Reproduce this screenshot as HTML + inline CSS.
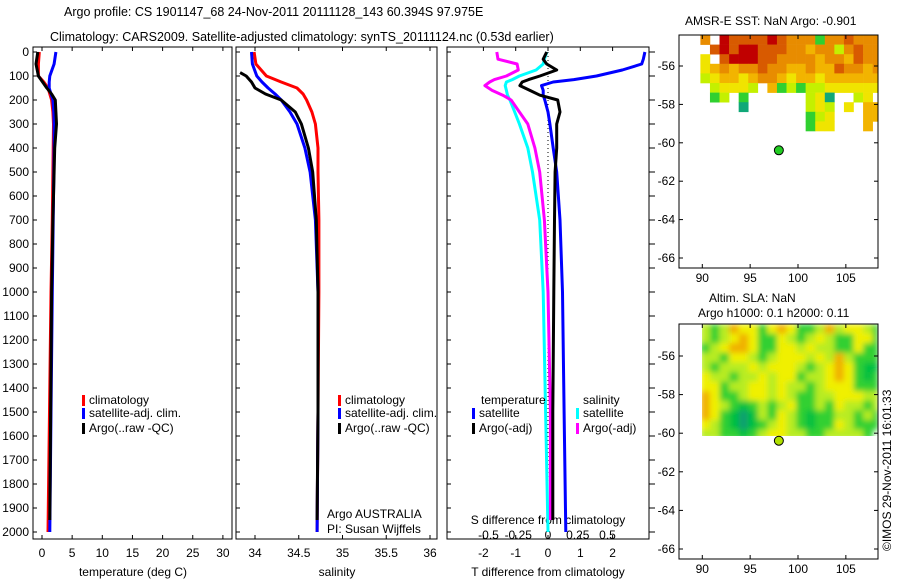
<!DOCTYPE html>
<html><head><meta charset="utf-8"><style>
body{margin:0;background:#fff;}
svg{display:block;font-family:"Liberation Sans",sans-serif;font-size:12px;}
</style></head><body>
<svg id="c" width="900" height="580" viewBox="0 0 900 580">
<defs>
<filter id="blur" x="0" y="0" width="1" height="1"><feGaussianBlur stdDeviation="3"/></filter>
<clipPath id="slaclip"><rect x="702" y="324" width="176" height="112"/></clipPath>
</defs>
<text x="64" y="16" style="font-size:12.5px">Argo profile: CS 1901147_68 24-Nov-2011 20111128_143 60.394S 97.975E</text>
<text x="50" y="41" style="font-size:12.5px">Climatology: CARS2009. Satellite-adjusted climatology: synTS_20111124.nc (0.53d earlier)</text>
<text x="685" y="25">AMSR-E SST: NaN Argo: -0.901</text>
<text x="709" y="302">Altim. SLA: NaN</text>
<text x="698" y="317">Argo h1000: 0.1 h2000: 0.11</text>
<text transform="translate(891,551) rotate(-90)">©IMOS 29-Nov-2011 16:01:33</text>
<g id="g"></g>
</svg>
<script>
const depths=[0,50,100,125,150,175,200,250,300,400,500,700,1000,1500,2000];
const tempClim=[-0.45,-0.6,-0.6,0.3,1.0,1.3,1.6,1.8,1.9,1.85,1.8,1.7,1.5,1.25,1.0];
const tempSat=[2.3,2.0,1.3,1.2,1.2,1.5,1.8,1.95,2.0,2.0,1.95,1.85,1.7,1.5,1.3];
const tempArgo=[-0.7,-1.0,-0.6,0.1,0.8,1.6,2.2,2.3,2.4,2.1,2.0,1.8,1.6,1.3,1.1];
const salClim=[33.99,34.01,34.13,34.3,34.48,34.55,34.59,34.65,34.69,34.72,34.72,34.73,34.73,34.72,34.71];
const salSat=[33.96,33.97,34.02,34.08,34.15,34.23,34.30,34.40,34.48,34.57,34.63,34.69,34.72,34.72,34.71];
const argoDepths=[86,100,125,150,175,200,250,300,400,500,700,1000,1500,1950];
const salArgo=[33.83,33.9,33.96,34.0,34.12,34.30,34.46,34.53,34.61,34.66,34.70,34.72,34.72,34.71];
const tdDepths=[0,30,50,75,100,115,125,140,160,180,200,250,300,400,500,700,1000,1500,2000];
const tdSat=[3.0,2.95,2.9,2.3,1.5,0.8,0.16,-0.2,-0.15,-0.15,-0.1,0.0,0.06,0.16,0.27,0.37,0.45,0.5,0.55];
const tdArgo=[-0.04,-0.15,-0.04,0.27,-0.25,-0.6,-0.8,-0.87,-0.56,-0.25,0.3,0.37,0.27,0.27,0.22,0.2,0.18,0.15,0.15];
const sdSat=[-0.01,-0.03,-0.04,-0.1,-0.24,-0.3,-0.35,-0.36,-0.35,-0.34,-0.32,-0.28,-0.24,-0.17,-0.13,-0.07,-0.04,-0.02,0.0];
const sdArgo=[-0.43,-0.42,-0.26,-0.25,-0.35,-0.45,-0.49,-0.53,-0.47,-0.38,-0.31,-0.24,-0.17,-0.11,-0.07,-0.03,0.0,0.02,0.02];
const depthTicks=[0,100,200,300,400,500,600,700,800,900,1000,1100,1200,1300,1400,1500,1600,1700,1800,1900,2000];
const tempTicks=[0,5,10,15,20,25,30];
const salTicks=[34,34.5,35,35.5,36];
const tdTicks=[-2,-1,0,1,2];
const sdTicks=[-0.5,-0.25,0,0.25,0.5];
const lonTicks=[90,95,100,105];
const latTicks=[-56,-58,-60,-62,-64,-66];
const argoLon=98.0, argoLat=-60.39;
const sstGrid=[
"o.RrrrrRrooogooroooo",
".rRrRRrrrooOoolorooo",
"y.rRRRrrooooOooOrooo",
"yOoOoorooOOoOOrooOo",
"lyOOyOooOyOOyOOOOOO",
".lyyyl.OglgllyyyyyY",
".gl.g......lyt..ly",
"....t......lyl.y.OO",
"...........gly...OO",
"...........gyy...O."];
const slaGrid=[
"lgloyygyoyggloly ylg".replace(/ /g,''),
"lglyoyggylglylggyyg",
"glyooyggyylyllggyg g".replace(/ /g,''),
"llgyylglyyylyl olggg".replace(/ /g,''),
"lglllylyyylglyoygGG",
"yllgllylyyglly oygGg".replace(/ /g,''),
"yyglly ylyllglyyyggg".replace(/ /g,''),
"oygglyylylggllyyyll",
"oylgGglglygglgyllgl",
"oygGtGlgylgGggllglg",
"ylgGtGglylgGggylggg",
"llggGglyyllggllllg"];

const NS='http://www.w3.org/2000/svg';
const G=document.getElementById('g');
function el(t,a,p){const e=document.createElementNS(NS,t);for(const k in a)e.setAttribute(k,a[k]);(p||G).appendChild(e);return e;}
const yD=d=>52+0.24*d;
const xT=v=>42+6.03*v, xS=v=>255+87.5*(v-34), xTD=v=>548+32.3*v, xSD=v=>548+119*v;
const xLon=l=>702.3+9.57*(l-90), yLat1=l=>66+19.2*(-56-l), yLat2=l=>356+19.3*(-56-l);

function frame(x0,x1,name){
  const r=el('rect',{x:x0,y:47,width:x1-x0,height:492,fill:'none',stroke:'#000','stroke-width':1});
  
  
}
function line(xs,ds,fx,color,name,w){
  const pts=xs.map((v,i)=>fx(v).toFixed(1)+','+yD(ds[i]).toFixed(1)).join(' ');
  const p=el('polyline',{points:pts,fill:'none',stroke:color,'stroke-width':w||3,'stroke-linejoin':'round'});
  
  
}
function txt(x,y,s,anchor,name){
  const t=el('text',{x:x,y:y,'text-anchor':anchor||'start'});t.textContent=s;
  
  
}
frame(33,232,'temperature-panel');frame(236,437,'salinity-panel');frame(447,649,'difference-panel');
depthTicks.forEach(d=>{
  const y=yD(d);
  el('line',{x1:33,y1:y,x2:37,y2:y,stroke:'#000'});
  el('line',{x1:236,y1:y,x2:240,y2:y,stroke:'#000'});
  el('line',{x1:447,y1:y,x2:451,y2:y,stroke:'#000'});
  el('line',{x1:649,y1:y,x2:655,y2:y,stroke:'#000'});
  txt(29,y+4,String(d),'end','depth-tick-label');
});
tempTicks.forEach(v=>{const x=xT(v);el('line',{x1:x,y1:47,x2:x,y2:51,stroke:'#000'});el('line',{x1:x,y1:539,x2:x,y2:535,stroke:'#000'});txt(x,557,String(v),'middle','temp-tick-label');});
salTicks.forEach(v=>{const x=xS(v);el('line',{x1:x,y1:47,x2:x,y2:51,stroke:'#000'});el('line',{x1:x,y1:539,x2:x,y2:535,stroke:'#000'});txt(x,557,String(v),'middle','salinity-tick-label');});
tdTicks.forEach(v=>{const x=xTD(v);el('line',{x1:x,y1:47,x2:x,y2:51,stroke:'#000'});el('line',{x1:x,y1:539,x2:x,y2:535,stroke:'#000'});txt(x,557,String(v),'middle','tdiff-tick-label');});
sdTicks.forEach(v=>{txt(xSD(v),539,String(v),'middle','sdiff-tick-label');});
txt(133,576,'temperature (deg C)','middle','temperature-axis-title');
txt(337,576,'salinity','middle','salinity-axis-title');
txt(548,576,'T difference from climatology','middle','tdiff-axis-title');
txt(548,524,'S difference from climatology','middle','sdiff-axis-title');
const z=el('line',{x1:548,y1:yD(0),x2:548,y2:yD(2000),stroke:'#000','stroke-dasharray':'1,3'});


line(tempClim,depths,xT,'#f00','temp-climatology');
line(tempSat,depths,xT,'#00f','temp-satellite');
line(tempArgo.slice(0,14),depths.slice(0,14).map((d,i)=>i==13?1950:d),xT,'#000','temp-argo');
line(salClim,depths,xS,'#f00','salinity-climatology');
line(salSat,depths,xS,'#00f','salinity-satellite');
line(salArgo,argoDepths,xS,'#000','salinity-argo');
line(sdSat,tdDepths,xSD,'#0ff','sdiff-satellite');
line(sdArgo,tdDepths.map(d=>d==2000?1950:d),xSD,'#f0f','sdiff-argo');
line(tdSat,tdDepths,xTD,'#00f','tdiff-satellite');
line(tdArgo,tdDepths.map(d=>d==2000?1950:d),xTD,'#000','tdiff-argo');
function leg(x,y,c,s,name){el('rect',{x:x,y:y-9,width:3,height:11,fill:c});txt(x+7,y,s,'start',name);}
leg(82,404,'#f00','climatology','legend-climatology');leg(82,417,'#00f','satellite-adj. clim.','legend-satellite');leg(82,432,'#000','Argo(..raw -QC)','legend-argo');
leg(338,404,'#f00','climatology','legend-climatology-2');leg(338,417,'#00f','satellite-adj. clim.','legend-satellite-2');leg(338,432,'#000','Argo(..raw -QC)','legend-argo-2');
txt(481,404,'temperature','start','legend-temperature-header');txt(583,404,'salinity','start','legend-salinity-header');
leg(472,417,'#00f','satellite','legend-t-satellite');leg(472,432,'#000','Argo(-adj)','legend-t-argo');
leg(576,417,'#0ff','satellite','legend-s-satellite');leg(576,432,'#f0f','Argo(-adj)','legend-s-argo');
txt(327,518,'Argo AUSTRALIA','start','argo-agency');txt(327,533,'PI: Susan Wijffels','start','argo-pi');
const cols={R:'#c00000',r:'#d85a00',o:'#e88c00',O:'#f2b400',y:'#f0e400',Y:'#f0e400',l:'#c4f000',g:'#30d030',G:'#00b848',t:'#10a878'};
const slaCols={l:'#b8ec20',g:'#30d030',G:'#00c040',y:'#f0f000',o:'#f0b000',t:'#10a070'};
function map(y0,yLat,grid,cm,name,dotC,smooth){
  const cw=9.57,ch=9.6;
  let host=G;
  if(smooth){host=el('g',{'clip-path':'url(#slaclip)'});}
  const gg=el('g',smooth?{filter:'url(#blur)'}:{},host);
  
  
  grid.forEach((row,r)=>{for(let c=0;c<row.length;c++){const k=row[c];if(!cm[k])continue;
    const x=xLon(89.8+c), w=Math.min(cw,878-x); if(w<=0)continue;
    el('rect',{x:x,y:y0+r*ch,width:w+0.3,height:ch+0.3,fill:cm[k]},gg);}});
  const f=el('rect',{x:679,y:y0,width:199,height:yLat(-66)+10-y0,fill:'none',stroke:'#000'});
  
  
  const yb=yLat(-66)+10;
  lonTicks.forEach(l=>{const x=xLon(l);el('line',{x1:x,y1:y0,x2:x,y2:y0+4,stroke:'#000'});el('line',{x1:x,y1:yb,x2:x,y2:yb-4,stroke:'#000'});txt(x,yb+14,String(l),'middle',name+'-lon-label');});
  latTicks.forEach(l=>{const y=yLat(l);el('line',{x1:679,y1:y,x2:683,y2:y,stroke:'#000'});el('line',{x1:878,y1:y,x2:874,y2:y,stroke:'#000'});txt(675,y+4,String(l),'end',name+'-lat-label');});
  const d=el('circle',{cx:xLon(argoLon),cy:yLat(argoLat),r:4.5,fill:dotC,stroke:'#000'});
  
  
}
map(35,yLat1,sstGrid,cols,'sst-map','#22cc22',false);
map(324,yLat2,slaGrid,slaCols,'sla-map','#b0e000',true);
</script>
</body></html>
